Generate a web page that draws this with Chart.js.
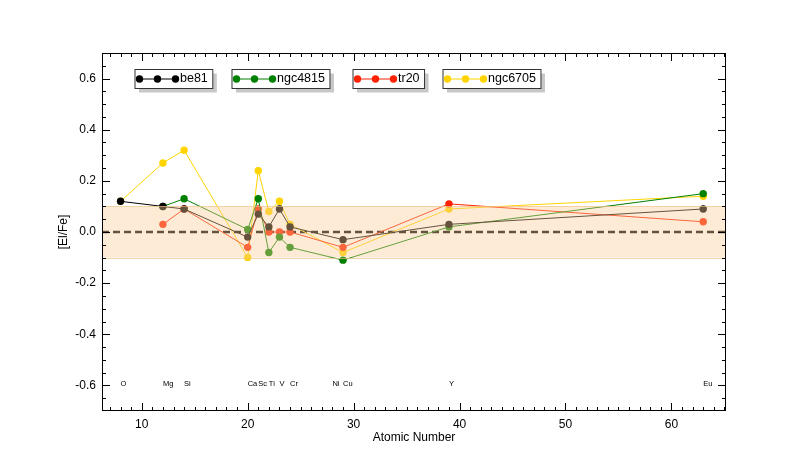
<!DOCTYPE html>
<html>
<head>
<meta charset="utf-8">
<title>[El/Fe] vs atomic number</title>
<script src="https://cdn.jsdelivr.net/npm/chart.js@4.4.0/dist/chart.umd.min.js"></script>
<style>
  html, body { margin: 0; padding: 0; background: #fff; }
  #wrap { width: 789px; height: 473px; }
</style>
</head>
<body>
<div id="wrap"><canvas id="chart"></canvas></div>
<script>
/*
[El/Fe] abundance pattern of four open clusters
*/

// elements and atomic numbers (Ni has a label but no measurements)
const ELEMENTS = ['O', 'Mg', 'Si', 'Ca', 'Sc', 'Ti', 'V', 'Cr', 'Ni', 'Cu', 'Y', 'Eu'];
const Z        = [  8,   12,   14,   20,   21,   22,  23,   24,   28,   29,  39,   63];

// [El/Fe] per cluster, same order as ELEMENTS
const BE81    = [0.12, 0.10, 0.09, -0.02, 0.07,  0.02,  0.09,  0.02, null, -0.03, 0.03, 0.09];
const NGC4815 = [null, 0.10, 0.13,  0.01, 0.13, -0.08, -0.02, -0.06, null, -0.11, 0.02, 0.15];
const TR20    = [null, 0.03, 0.09, -0.06, 0.09,  0.00,  0.00,  0.00, null, -0.06, 0.11, 0.04];
const NGC6705 = [0.12, 0.27, 0.32, -0.10, 0.24,  0.08,  0.12,  0.03, null, -0.08, 0.09, 0.14];

const SERIES_NAMES = ['be81', 'ngc4815', 'tr20', 'ngc6705'];
const SERIES_DATA  = [BE81, NGC4815, TR20, NGC6705];

// axes
const X_TICKS = [10, 20, 30, 40, 50, 60];
const Y_TICKS = [-0.6, -0.4, -0.2, 0.0, 0.2, 0.4, 0.6];
const X_RANGE = [6.25, 65.15];
const Y_RANGE = [-0.7, 0.7];

// shaded +/- band and zero reference
const BAND = [-0.1, 0.1];
const ZERO = 0;


// styles
const COLORS = ['#000000', '#008000', '#ff2200', '#ffd400'];
const FONT = '"Liberation Sans", Arial, Helvetica, sans-serif';
const LEGEND_LEFT = [135, 232, 353, 443];
const DOT = 3.7;

const toPoints = vals => vals.map((v, i) => ({ x: Z[i], y: v }));

const datasets = SERIES_NAMES.map((name, i) => ({
  label: name,
  data: toPoints(SERIES_DATA[i]),
  borderColor: COLORS[i],
  backgroundColor: COLORS[i],
  borderWidth: 1,
  pointRadius: DOT,
  pointBorderWidth: 0,
  pointBackgroundColor: COLORS[i],
  spanGaps: true,
  tension: 0
}));

// dashed zero line, drawn beneath everything else
datasets.push({
  label: 'zero',
  data: [{ x: X_RANGE[0], y: ZERO }, { x: X_RANGE[1], y: ZERO }],
  borderColor: '#000000',
  borderWidth: 2.6,
  borderDash: [7, 4],
  pointRadius: 0
});


// band overlay, frame, inward ticks, element labels, boxed legend
const decorations = {
  id: 'decorations',

  afterDatasetsDraw(chart) {
    const { ctx, chartArea: a, scales: { y } } = chart;
    const yt = y.getPixelForValue(BAND[1]), yb = y.getPixelForValue(BAND[0]);
    ctx.save();
    ctx.fillStyle = 'rgba(250,205,150,0.4)';
    ctx.fillRect(a.left, yt, a.right - a.left, yb - yt);
    ctx.strokeStyle = 'rgba(240,195,135,0.7)';
    ctx.lineWidth = 1;
    ctx.beginPath();
    ctx.moveTo(a.left, Math.round(yt) + 0.5); ctx.lineTo(a.right, Math.round(yt) + 0.5);
    ctx.moveTo(a.left, Math.round(yb) + 0.5); ctx.lineTo(a.right, Math.round(yb) + 0.5);
    ctx.stroke();
    ctx.restore();
  },

  afterDraw(chart) {
    const { ctx, chartArea: a, scales: { x, y } } = chart;
    ctx.save();

    // frame
    ctx.strokeStyle = '#000';
    ctx.lineWidth = 1;
    ctx.strokeRect(a.left + 0.5, a.top + 0.5, a.right - a.left - 1, a.bottom - a.top - 1);

    // x ticks, every unit, majors at tens
    ctx.beginPath();
    for (let v = Math.ceil(X_RANGE[0]); v <= Math.floor(X_RANGE[1]); v++) {
      const px = Math.round(x.getPixelForValue(v)) + 0.5;
      const len = v % 10 === 0 ? 8 : 4;
      ctx.moveTo(px, a.bottom); ctx.lineTo(px, a.bottom - len);
      ctx.moveTo(px, a.top);    ctx.lineTo(px, a.top + len);
    }
    // y ticks, every 0.05, majors at 0.2
    for (let i = -13; i <= 13; i++) {
      const py = Math.round(y.getPixelForValue(i * 0.05)) + 0.5;
      const len = i % 4 === 0 ? 8 : 4;
      ctx.moveTo(a.left, py);  ctx.lineTo(a.left + len, py);
      ctx.moveTo(a.right, py); ctx.lineTo(a.right - len, py);
    }
    ctx.stroke();

    // element names along the bottom
    ctx.fillStyle = '#000';
    ctx.font = '7.5px ' + FONT;
    ctx.textAlign = 'left';
    ctx.textBaseline = 'middle';
    const ly = y.getPixelForValue(-0.6) - 1.5;
    ELEMENTS.forEach((el, i) => ctx.fillText(el, x.getPixelForValue(Z[i]), ly));

    // legend boxes
    ctx.font = '12.5px ' + FONT;
    SERIES_NAMES.forEach((name, i) => {
      const left = LEGEND_LEFT[i], top = 69.5, h = 19, cy = 79;
      const tw = ctx.measureText(name).width;
      const w = 4.5 + 36 + 4.5 + tw + 5;
      ctx.fillStyle = '#c8c8c8';
      ctx.fillRect(left + 4, top + 4, w, h);
      ctx.fillStyle = '#fff';
      ctx.fillRect(left, top, w, h);
      ctx.strokeStyle = '#333';
      ctx.lineWidth = 1;
      ctx.strokeRect(left, top, w, h);

      const dx = left + 4.5;
      ctx.strokeStyle = COLORS[i];
      ctx.beginPath();
      ctx.moveTo(dx, cy); ctx.lineTo(dx + 36, cy);
      ctx.stroke();
      ctx.fillStyle = COLORS[i];
      for (let k = 0; k < 3; k++) {
        ctx.beginPath();
        ctx.arc(dx + k * 18, cy, DOT, 0, Math.PI * 2);
        ctx.fill();
      }
      ctx.fillStyle = '#000';
      ctx.fillText(name, dx + 36 + 4.5, cy);
    });

    ctx.restore();
  }
};


new Chart(document.getElementById('chart'), {
  type: 'line',
  data: { datasets },
  plugins: [decorations],
  options: {
    responsive: true,
    maintainAspectRatio: false,
    animation: false,
    layout: { padding: { top: 53, right: 63, bottom: 0, left: 0 } },
    plugins: {
      legend: { display: false },
      tooltip: { enabled: false }
    },
    scales: {
      x: {
        type: 'linear',
        min: X_RANGE[0],
        max: X_RANGE[1],
        grid: { display: false, drawTicks: false },
        border: { display: false },
        afterBuildTicks: s => { s.ticks = X_TICKS.map(v => ({ value: v })); },
        afterFit: s => { s.height = 62; },
        ticks: {
          padding: 6,
          color: '#000',
          font: { family: FONT, size: 12 },
          maxRotation: 0,
          callback: v => String(v)
        },
        title: {
          display: true,
          text: 'Atomic Number',
          color: '#000',
          font: { family: FONT, size: 12 },
          padding: { top: 0, bottom: 28 }
        }
      },
      y: {
        type: 'linear',
        min: Y_RANGE[0],
        max: Y_RANGE[1],
        grid: { display: false, drawTicks: false },
        border: { display: false },
        afterBuildTicks: s => { s.ticks = Y_TICKS.map(v => ({ value: v })); },
        afterFit: s => { s.width = 102; },
        ticks: {
          padding: 6,
          color: '#000',
          font: { family: FONT, size: 12 },
          callback: v => v.toFixed(1)
        },
        title: {
          display: true,
          text: '[El/Fe]',
          color: '#000',
          font: { family: FONT, size: 12 },
          padding: { top: 56, bottom: 0 }
        }
      }
    }
  }
});
</script>
</body>
</html>
